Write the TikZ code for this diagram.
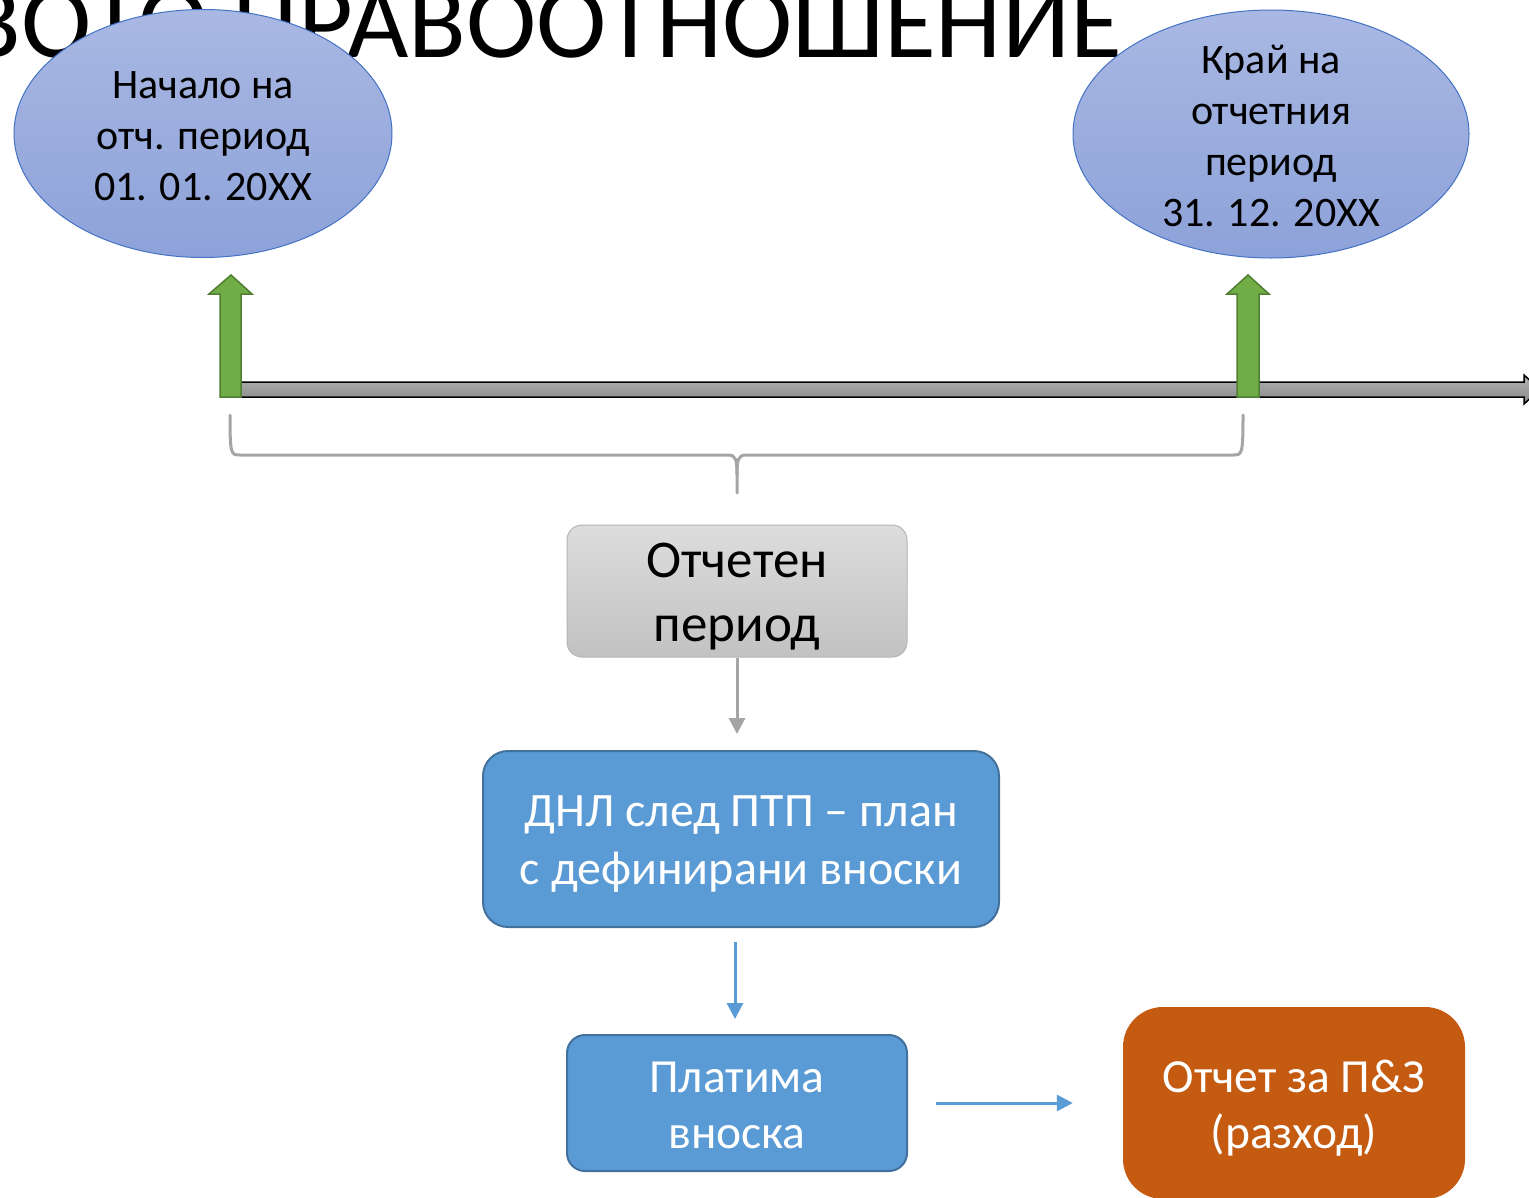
\documentclass[tikz,border=0pt]{standalone}
\usepackage{fontspec}
\setmainfont{Carlito}
\usetikzlibrary{shapes.geometric,arrows.meta}
\definecolor{ellTop}{HTML}{A9B8E3}
\definecolor{ellBot}{HTML}{8DA2D9}
\definecolor{ellLine}{HTML}{4472C4}
\definecolor{grnFill}{HTML}{70AD47}
\definecolor{grnLine}{HTML}{507E32}
\definecolor{barTop}{HTML}{B2B2B2}
\definecolor{barBot}{HTML}{888888}
\definecolor{braceCol}{HTML}{A5A5A5}
\definecolor{gTop}{HTML}{DDDDDD}
\definecolor{gBot}{HTML}{C2C2C2}
\definecolor{gLine}{HTML}{B5B5B5}
\definecolor{blueFill}{HTML}{5B9BD5}
\definecolor{blueLine}{HTML}{41719C}
\definecolor{orFill}{HTML}{C55A11}
\tikzset{
  ell/.style={ellipse, draw=ellLine, line width=1pt, top color=ellTop, bottom color=ellBot,
    inner sep=0pt},
  elltext/.style={align=center, inner sep=0pt, font=\fontsize{42}{51}\selectfont},
  graybox/.style={rectangle, rounded corners=15pt, draw=gLine, line width=1pt,
    top color=gTop, bottom color=gBot, inner sep=0pt},
  bluebox/.style={rectangle, draw=blueLine, line width=2pt, fill=blueFill, inner sep=0pt},
  orbox/.style={rectangle, rounded corners=40pt, fill=orFill, inner sep=0pt},
  boxtext/.style={align=center, inner sep=0pt},
  greenarrow/.style={draw=grnLine, line width=1.5pt, fill=grnFill, line join=miter},
  conn/.style={line width=3pt, -{Triangle[length=16pt,width=16pt]}},
}
\begin{document}
\begin{tikzpicture}[x=1pt,y=-1pt]
\useasboundingbox (0,0) rectangle (1529,1197);
\clip (0,0) rectangle (1529,1197);
\fill[white] (0,0) rectangle (1529,1197);
% title (partly hidden)
\node[anchor=base east, inner sep=0pt, font=\fontsize{106}{116}\selectfont] (title) at (1122,57) {ВОТО ПРАВООТНОШЕНИЕ};
% ellipses
\node[ell, minimum width=378pt, minimum height=248pt] (start) at (203,133.5) {};
\node[elltext] (starttxt) at ([yshift=-3pt]start.center) {Начало на\\отч. период\\01. 01. 20XX};
\node[ell, minimum width=396pt, minimum height=248pt] (end) at (1271,134) {};
\node[elltext] (endtxt) at ([yshift=-2pt]end.center) {Край на\\отчетния\\период\\31. 12. 20XX};
% timeline bar
\shade[top color=barTop, bottom color=barBot, draw=black, line width=1.5pt]
  (236,382) -- (1524,382) -- (1524,375) -- (1540,389.5) -- (1524,404) -- (1524,397) -- (236,397) -- cycle;
% green arrows
\draw[greenarrow] (220,397) -- (220,294) -- (209,294) -- (231,275) -- (252,294) -- (241,294) -- (241,397) -- cycle;
\draw[greenarrow] (1237,397) -- (1237,294) -- (1227,294) -- (1248,275) -- (1269,294) -- (1259,294) -- (1259,397) -- cycle;
% brace
\draw[braceCol, line width=3pt, line cap=round]
  (230,415) .. controls (230,455) and (231,455) .. (240,455) -- (728,455)
  .. controls (736,455) and (737,460) .. (737,475) -- (737,493);
\draw[braceCol, line width=3pt, line cap=round]
  (737,475) .. controls (737,460) and (738,455) .. (746,455) -- (1233,455)
  .. controls (1242,455) and (1243,455) .. (1243,415);
% boxes
\node[graybox, minimum width=340pt, minimum height=132pt] (period) at (737,591) {};
\node[boxtext, font=\fontsize{53}{64}\selectfont] (periodtxt) at ([yshift=-6pt]period.center) {Отчетен\\период};
\node[bluebox, rounded corners=25pt, minimum width=516pt, minimum height=176pt] (dnl) at (741,839) {};
\node[boxtext, text=white, font=\fontsize{48}{58}\selectfont] (dnltxt) at ([yshift=-5pt]dnl.center) {ДНЛ след ПТП – план\\с дефинирани вноски};
\node[bluebox, rounded corners=18pt, minimum width=340pt, minimum height=136pt] (pay) at (737,1103) {};
\node[boxtext, text=white, font=\fontsize{47.5}{56}\selectfont] (paytxt) at ([yshift=-2pt]pay.center) {Платима\\вноска};
\node[orbox, minimum width=342pt, minimum height=192pt] (report) at (1294,1103) {};
\node[boxtext, text=white, font=\fontsize{47.5}{56}\selectfont] (reporttxt) at ([yshift=-5pt]report.center) {Отчет за П\&З\\(разход)};
% connectors
\draw[conn, braceCol] (period.south) -- ([yshift=16pt]dnl.north -| period.south);
\draw[conn, blueFill] ([yshift=-14pt]dnl.south -| 735,0) -- ([yshift=15pt]pay.north -| 735,0);
\draw[conn, blueFill] ([xshift=28pt]pay.east) -- ([xshift=-50pt]report.west);
\end{tikzpicture}
\end{document}
